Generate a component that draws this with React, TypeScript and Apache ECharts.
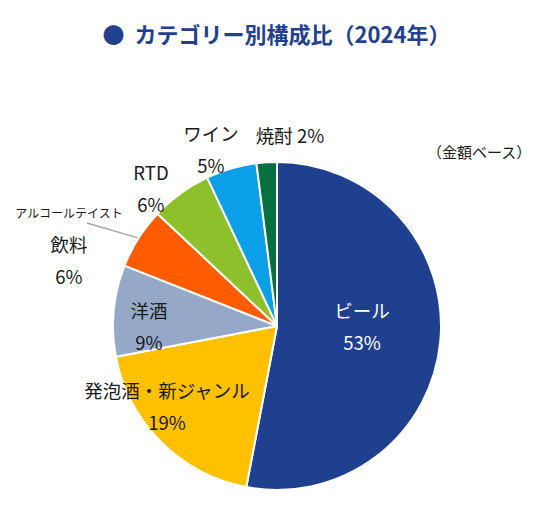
import { useEffect, useRef } from 'react'
import * as echarts from 'echarts'

const categories = ['ビール', '発泡酒・新ジャンル', '洋酒', 'アルコールテイスト飲料', 'RTD', 'ワイン', '焼酎']
const shares = [53, 19, 9, 6, 6, 5, 2]
const colors = ['#1f3f8f', '#ffc000', '#95a8c8', '#ff5b00', '#8dc02b', '#0a9fe6', '#067040']

// where each label block is centred (page px)
const labelAt = [
  [362, 326],
  [167, 406],
  [149, 326],
  [69, 244],
  [151, 188],
  [211, 149],
  [290, 135],
]
const leaderEnd = [18, -21]

const FONT = "'Noto Sans CJK JP', 'Noto Sans', sans-serif"

export default function App() {
  const chartRef = useRef<HTMLDivElement>(null)

  useEffect(() => {
    if (!chartRef.current) return
    const chart = echarts.init(chartRef.current, undefined, { renderer: 'svg' })

    chart.setOption({
      animation: false,
      title: [
        {
          text: '●  カテゴリー別構成比（2024年）',
          left: 'center',
          top: 17,
          textStyle: { color: '#22408f', fontSize: 22, fontWeight: 'bold', fontFamily: FONT },
        },
        {
          text: '（金額ベース）',
          right: 16,
          top: 139,
          textStyle: { color: '#1a1a1a', fontSize: 15, fontWeight: 'normal', fontFamily: FONT },
        },
      ],
      series: [
        {
          type: 'pie',
          center: [277, 326],
          radius: 164,
          startAngle: 90,
          clockwise: true,
          itemStyle: { borderColor: '#fff', borderWidth: 2 },
          label: {
            position: 'inside',
            color: '#1a1a1a',
            fontSize: 18.5,
            lineHeight: 32,
            fontFamily: FONT,
            overflow: 'none',
            formatter: (p: any) => {
              if (p.name === 'アルコールテイスト飲料') return `{s|アルコールテイスト}\n飲料\n${p.percent}%`
              if (p.name === '焼酎') return `${p.name} ${p.percent}%`
              return `${p.name}\n${p.percent}%`
            },
            rich: {
              s: { fontSize: 12, lineHeight: 32, color: '#1a1a1a', fontFamily: FONT },
            },
          },
          labelLine: { show: false },
          labelLayout: (params: any) => {
            const i = params.dataIndex
            const [x, y] = labelAt[i]
            const out: any = { x, y, align: 'center', verticalAlign: 'middle' }
            if (i === 3) {
              const end = [x + leaderEnd[0], y + leaderEnd[1]]
              const p0 = params.labelLinePoints?.[0] ?? [x + 64, y + 1]
              out.labelLinePoints = [p0, end, end]
            }
            return out
          },
          data: categories.map((name, i) => {
            const item: any = { name, value: shares[i], itemStyle: { color: colors[i] } }
            if (i === 0) item.label = { color: '#fff' }
            if (i === 3) {
              item.label = { position: 'outside', alignTo: 'none', overflow: 'none', width: 200 }
              item.labelLine = { show: true, length: 12, length2: 10, lineStyle: { color: '#a6a6a6', width: 1.5 } }
            }
            return item
          }),
        },
      ],
    })

    return () => chart.dispose()
  }, [])

  return <div ref={chartRef} style={{ position: 'fixed', left: 0, top: 0, width: 553, height: 522, background: '#fff' }} />
}
